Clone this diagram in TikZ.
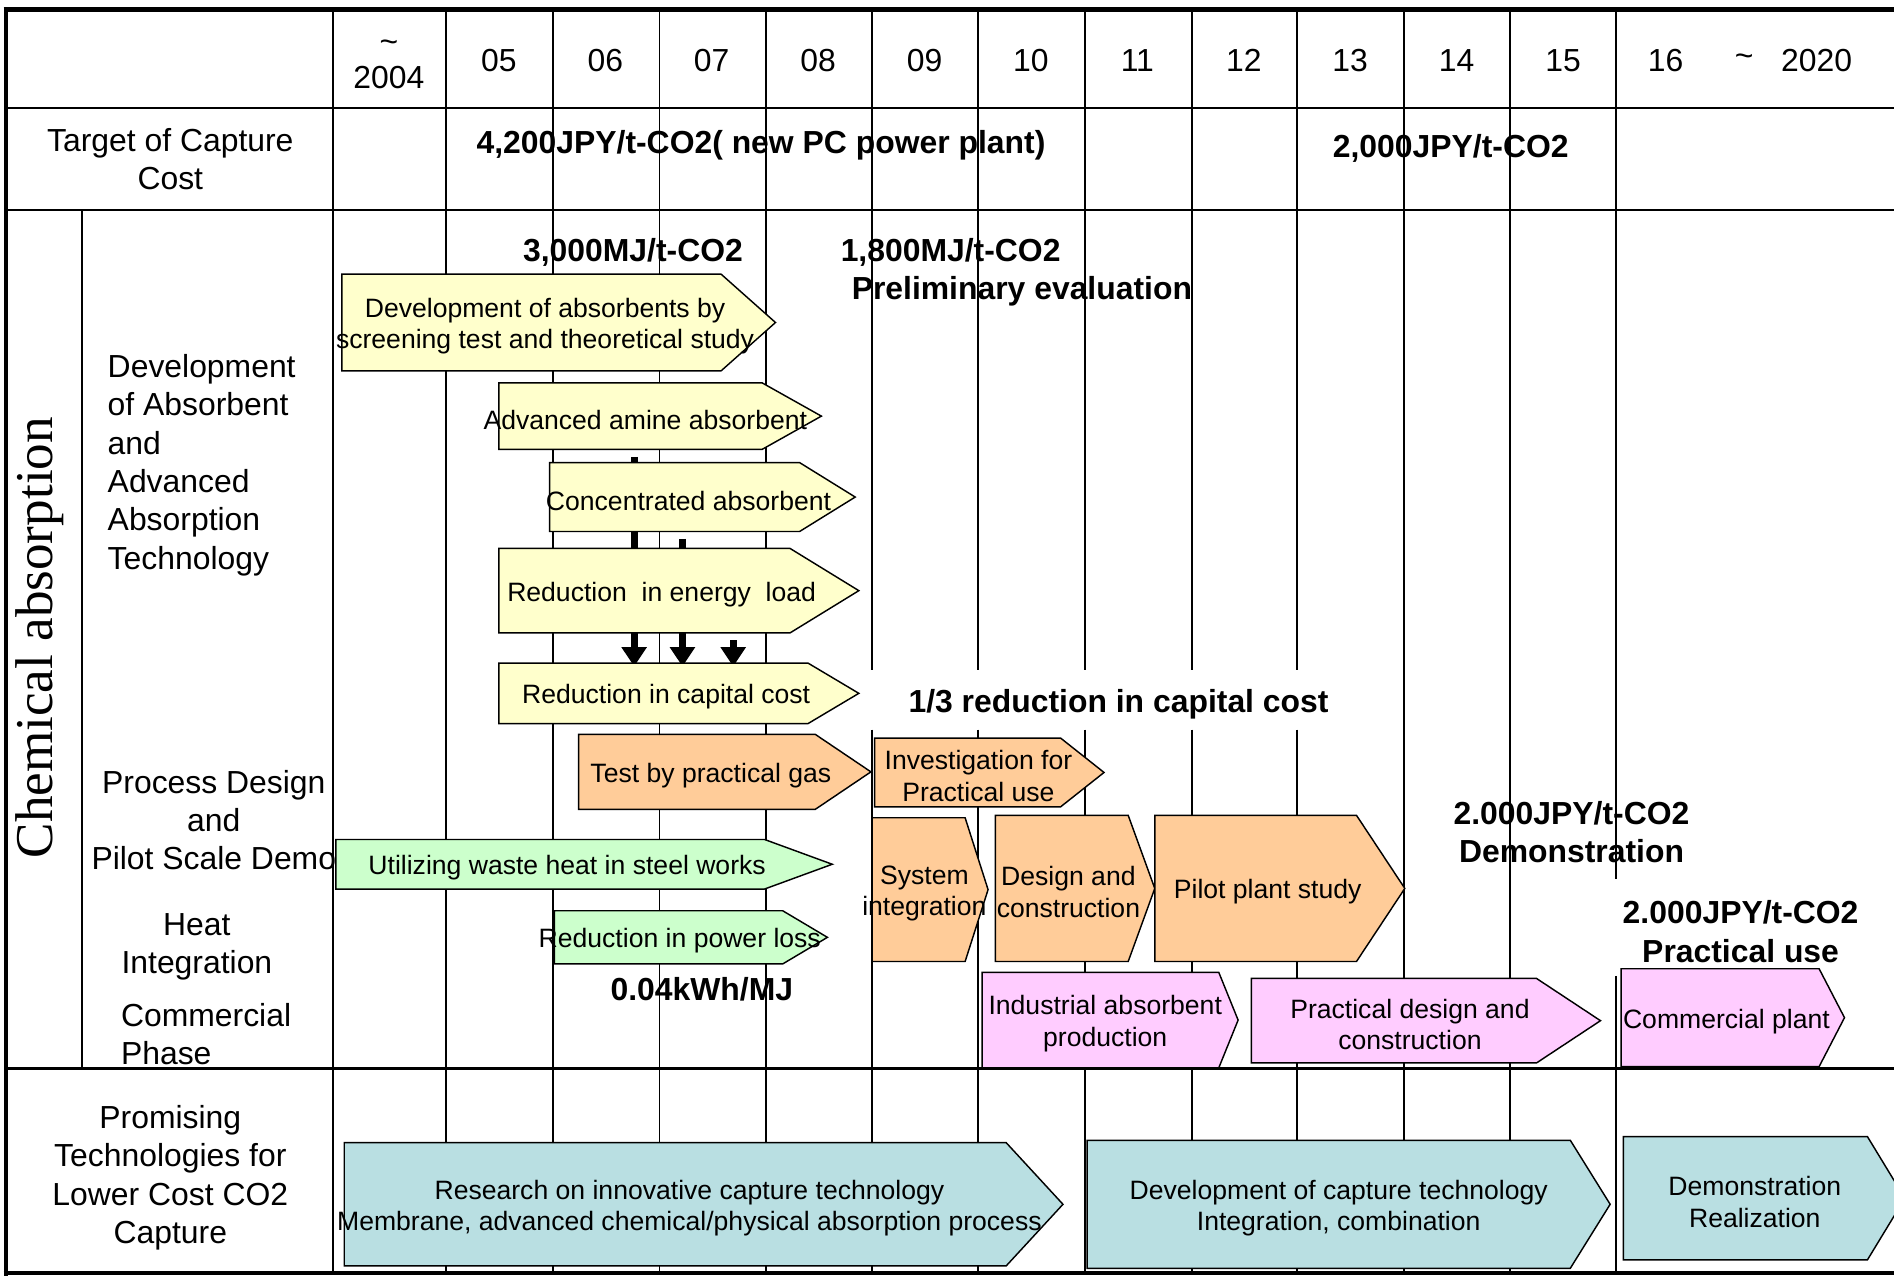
\documentclass[tikz,border=0pt]{standalone}
\usepackage{fontspec}
\setmainfont{Liberation Sans}
\newfontfamily\titleserif{Liberation Serif}
\usetikzlibrary{arrows.meta, backgrounds}

\definecolor{boxyellow}{HTML}{FFFFCC}
\definecolor{boxorange}{HTML}{FFCC99}
\definecolor{boxgreen}{HTML}{CCFFCC}
\definecolor{boxpink}{HTML}{FFCCFF}
\definecolor{boxteal}{HTML}{B9DFE2}

% arrow-shaped box: style, name, left, top, body end, tip, bottom, text
\newcommand{\tagbox}[8]{%
  \filldraw[boxline, #1] (#3,#4) -- (#5,#4) -- (#6,{(#4+#7)/2}) -- (#5,#7) -- (#3,#7) -- cycle;
  \node[boxtext, minimum width={(#5+#6)/2-#3}, minimum height={#7-#4}]
    (#2) at ({(#3+(#5+#6)/2)/2},{(#4+#7)/2}) {#8};%
}

\begin{document}
\begin{tikzpicture}[x=1pt, y=-1pt,
    grid/.style={line width=1.6pt},
    frame/.style={line width=4pt},
    boxline/.style={draw=black, line width=1.2pt},
    boxtext/.style={inner sep=0pt, align=center, yshift=-3pt, font=\fontsize{22}{26}\selectfont},
    rowlabel/.style={inner sep=0pt, align=center, font=\fontsize{26.4}{31.7}\selectfont},
    yearlabel/.style={inner sep=0pt, align=center, font=\fontsize{26.4}{30}\selectfont},
    goal/.style={inner sep=0pt, align=center, font=\fontsize{26.4}{32}\selectfont\bfseries},
    fatarrow/.style={line width=6pt, -{Triangle[length=16pt, width=20pt]}, shorten <=3pt}
]
\useasboundingbox (0,0) rectangle (1568,1056);
\clip (0,0) rectangle (1568,1056);

% table grid
\foreach \x in {276,369,458,546,634,1162,1250}
  \draw[grid] (\x,8) -- (\x,1054);
\foreach \x in {722,810,898,987,1074}
  \draw[grid] (\x,8) -- (\x,555) (\x,604) -- (\x,1054);
\draw[grid] (1338,8) -- (1338,728) (1338,808) -- (1338,1054);
\draw[grid] (5,89.5) -- (1568,89.5) (5,173.5) -- (1568,173.5);
\draw[grid] (68,173.5) -- (68,884.5);
\draw[line width=2.5pt] (5,884.5) -- (1568,884.5);
\draw[frame] (3,8) -- (1568,8);
\draw[frame] (5,6) -- (5,1056);
\draw[line width=3pt] (3,1054) -- (1568,1054);

% years
\node[yearlabel] (yr2004) at (322,53) {\textasciitilde\\2004};
\foreach \yr [count=\i] in {05,06,07,08,09,10,11,12,13,14,15}
  \node[yearlabel] (yr\yr) at ({369+88.1*(\i-1)+44},50) {\yr};
\node[yearlabel] (yr16) at (1379,50) {16};
\node[yearlabel] (yrto) at (1444,50) {\textasciitilde};
\node[yearlabel] (yr2020) at (1504,50) {2020};

% row labels
\node[rowlabel] (target) at (141,132) {Target of Capture\\Cost};
\node[rowlabel, rotate=90, font=\titleserif\fontsize{44}{44}\selectfont] (chem) at (33,528) {Chemical absorption};
\node[rowlabel, align=left, anchor=west] (absorb) at (89,385) {Development\\of Absorbent\\and\\Advanced\\Absorption\\Technology};
\node[rowlabel] (process) at (177,679) {Process Design\\and\\Pilot Scale Demo};
\node[rowlabel] (heat) at (163,784) {Heat\\Integration};
\node[rowlabel, align=left, anchor=west] (commerce) at (100,856) {Commercial\\Phase};
\node[rowlabel] (promising) at (141,975) {Promising\\Technologies for\\Lower Cost CO2\\Capture};

% absorbent development
\tagbox{fill=boxyellow}{screen}{283}{227}{597}{642}{307}{Development of absorbents by\\screening test and theoretical study}
\tagbox{fill=boxyellow}{amine}{413}{317}{631}{680}{372}{Advanced amine absorbent}
\tagbox{fill=boxyellow}{conc}{455}{383}{662}{708}{440}{Concentrated absorbent}
\tagbox{fill=boxyellow}{energy}{413}{454}{654}{711}{524}{Reduction\ \ in energy\ \ load}
\tagbox{fill=boxyellow}{capital}{413}{549}{669}{711}{599}{Reduction in capital cost}

% the three results all feed the capital cost (behind the boxes)
\begin{pgfonlayer}{background}
\draw[fatarrow] (525,0 |- amine.south) -- (525,0 |- capital.north);
\draw[fatarrow] (565,0 |- conc.south) -- (565,0 |- capital.north);
\draw[fatarrow] (607,0 |- energy.south) -- (607,0 |- capital.north);
\end{pgfonlayer}

% process design and pilot scale
\tagbox{fill=boxorange}{gas}{479}{608}{675}{721}{670}{Test by practical gas}
\tagbox{fill=boxorange}{invest}{724}{611}{878}{914}{668}{Investigation for\\Practical use}
\tagbox{fill=boxorange}{sysint}{722}{677}{799}{818}{796}{System\\integration}
\tagbox{fill=boxorange}{design}{824}{675}{934}{956}{796}{Design and\\construction}
\tagbox{fill=boxorange}{pilot}{956}{675}{1123}{1163}{796}{Pilot plant study}

% heat integration
\tagbox{fill=boxgreen}{waste}{278}{695}{633}{689}{736}{Utilizing waste heat in steel works}
\tagbox{fill=boxgreen}{power}{459}{754}{648}{685}{798}{Reduction in power loss}

% commercial phase
\tagbox{fill=boxpink}{industrial}{813}{805}{1009}{1025}{884}{Industrial absorbent\\production}
\tagbox{fill=boxpink}{practical}{1036}{810}{1272}{1325}{880}{Practical design and\\construction}
\tagbox{fill=boxpink}{complant}{1342}{802}{1506}{1527}{883}{Commercial plant}

% promising technologies
\tagbox{fill=boxteal}{research}{285}{946}{833}{880}{1048}{Research on innovative capture technology\\Membrane, advanced chemical/physical absorption process}
\tagbox{fill=boxteal}{devcap}{900}{944}{1300}{1333}{1050}{Development of capture technology\\Integration, combination}
\tagbox{fill=boxteal}{demo}{1344}{941}{1546}{1577}{1043}{Demonstration\\Realization}

% targets
\node[goal] (cost4200) at (630,120) {4,200JPY/t-CO2( new PC power plant)};
\node[goal] (cost2000) at (1201,123) {2,000JPY/t-CO2};
\node[goal] (mj3000) at (524,209) {3,000MJ/t-CO2};
\node[goal] (mj1800) at (787,209) {1,800MJ/t-CO2};
\node[goal] (prelim) at (846,241) {Preliminary evaluation};
\node[goal] (third) at (926,583) {1/3 reduction in capital cost};
\node[goal] (kwh) at (581,819) {0.04kWh/MJ};
\node[goal] (demogoal) at (1301,689) {2.000JPY/t-CO2\\Demonstration};
\node[goal] (usegoal) at (1441,771) {2.000JPY/t-CO2\\Practical use};

\end{tikzpicture}
\end{document}
